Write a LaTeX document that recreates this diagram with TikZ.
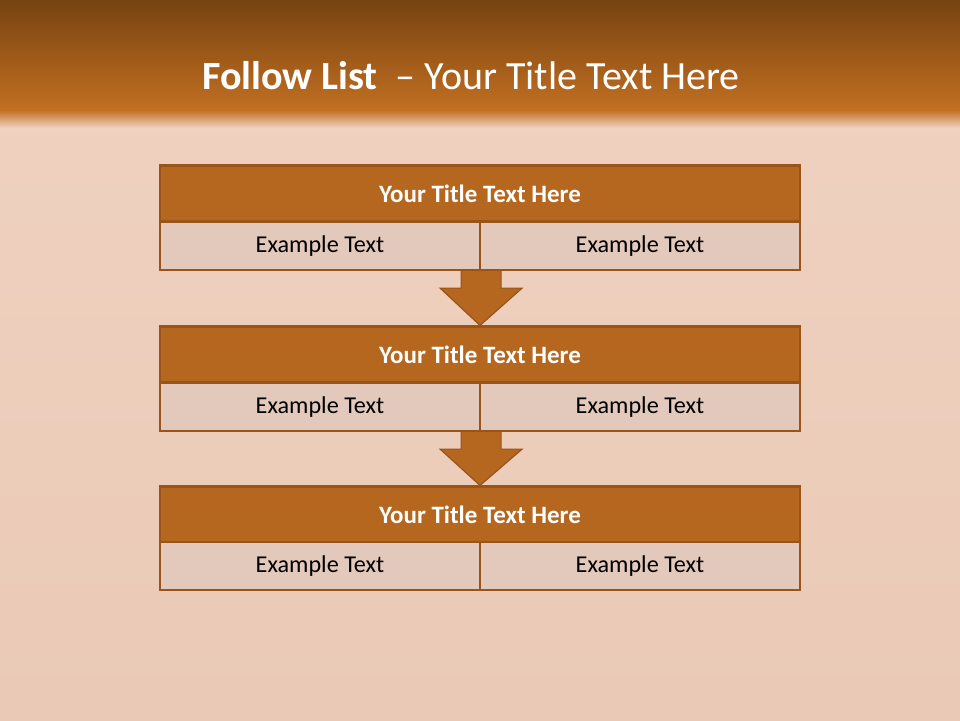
\documentclass[tikz,border=0pt]{standalone}
\usepackage{fontspec}
\setmainfont{Carlito}
\definecolor{bgc}{HTML}{F0D2C1}
\definecolor{bgd}{HTML}{EACAB6}
\definecolor{hdtop}{HTML}{764311}
\definecolor{hdbot}{HTML}{C26F21}
\definecolor{tfill}{HTML}{B5661F}
\definecolor{tline}{HTML}{99541A}
\definecolor{sfill}{HTML}{E3C9BC}
\begin{document}
\begin{tikzpicture}[x=1pt,y=-1pt,
  titlebox/.style={draw=tline,line width=2.2pt,fill=tfill,minimum width=640pt,minimum height=56pt,inner sep=0pt,text=white,font=\fontsize{25}{30}\selectfont\bfseries},
  subbox/.style={draw=tline,line width=2.2pt,fill=sfill,minimum width=320pt,minimum height=48pt,inner sep=0pt,text=black,font=\fontsize{24.2}{29}\selectfont},
  downarrow/.style={draw=tline,line width=1.2pt,fill=tfill}]
\useasboundingbox (0,0) rectangle (960,720);
\shade[top color=bgc,bottom color=bgd] (0,0) rectangle (960,720);
\shade[top color=hdtop,bottom color=hdbot] (0,0) rectangle (960,110);
\shade[top color=hdbot,bottom color=bgc] (0,110) rectangle (960,128);
\node[text=white,font=\fontsize{40}{46}\selectfont] (head) at (471,76) {\textbf{Follow List}\ \ – Your Title Text Here};
% block 1
\node[titlebox] (t1) at (480,193.5) {Your Title Text Here};
\node[subbox] (a1) at (320,246) {Example Text};
\node[subbox] (b1) at (640,246) {Example Text};
% block 2
\node[titlebox] (t2) at (480,354.5) {Your Title Text Here};
\node[subbox] (a2) at (320,407) {Example Text};
\node[subbox] (b2) at (640,407) {Example Text};
% block 3
\node[titlebox] (t3) at (480,514.5) {Your Title Text Here};
\node[subbox] (a3) at (320,566) {Example Text};
\node[subbox] (b3) at (640,566) {Example Text};
% arrows
\draw[downarrow] ([xshift=-20pt]a1.south east) -- ++(0,17) -- ++(-21,0) -- (t2.north) -- ([xshift=41pt,yshift=-17pt]a1.south east) -- ++(-21,0) -- ([xshift=20pt]a1.south east);
\draw[downarrow] ([xshift=-20pt]a2.south east) -- ++(0,17) -- ++(-21,0) -- (t3.north) -- ([xshift=41pt,yshift=-17pt]a2.south east) -- ++(-21,0) -- ([xshift=20pt]a2.south east);
\end{tikzpicture}
\end{document}
